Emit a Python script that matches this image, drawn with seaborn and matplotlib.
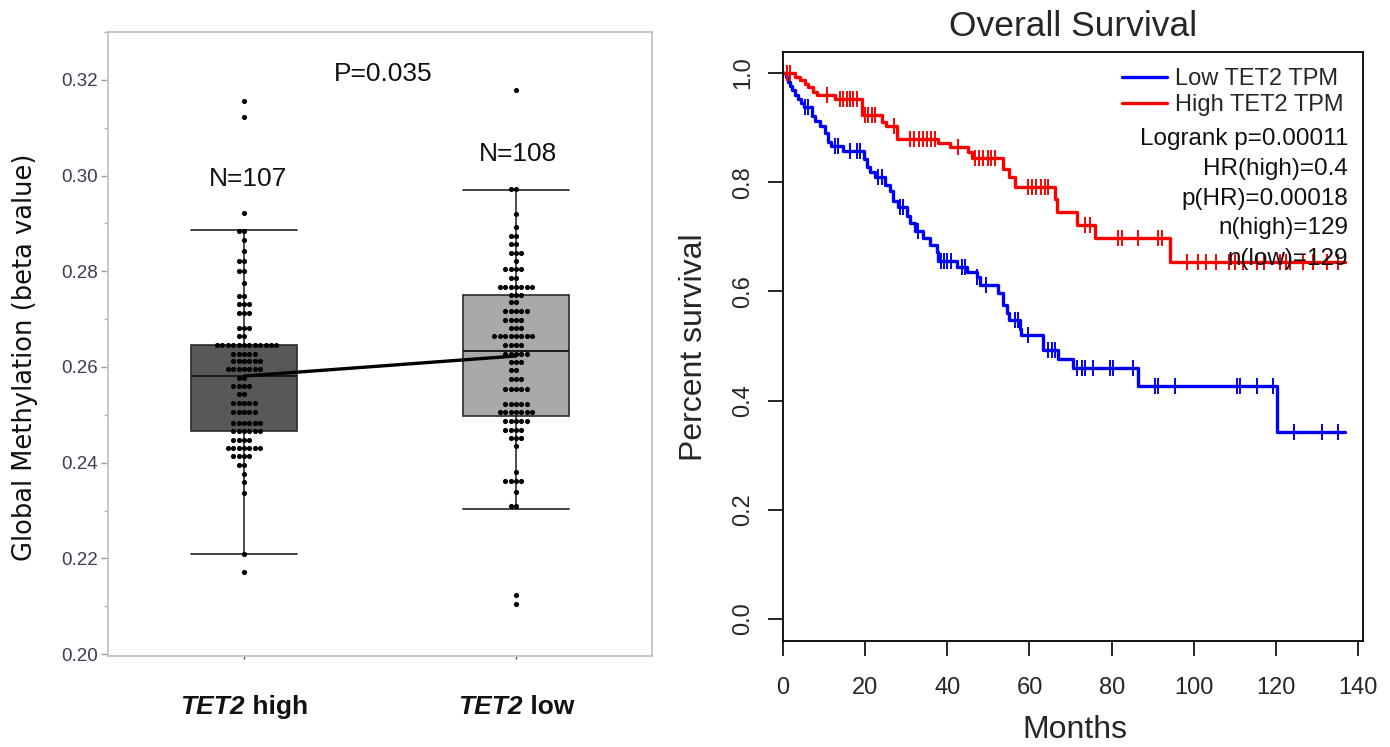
import numpy as np
import pandas as pd
import matplotlib
matplotlib.use("Agg")
import matplotlib.pyplot as plt
import seaborn as sns
from matplotlib.lines import Line2D
from matplotlib.offsetbox import TextArea, HPacker, AnnotationBbox

# ---------------- data ----------------
groups = ["TET2 high", "TET2 low"]
group_italic = ["TET2", "TET2"]
group_rest = [" high", " low"]

high_levels = [0.3156, 0.3123, 0.2921, 0.2885, 0.2866, 0.2842, 0.2821, 0.2801, 0.2776,
               0.2748, 0.2732, 0.2713, 0.2682, 0.2665, 0.2645, 0.2628, 0.2612, 0.2595,
               0.2578, 0.2560, 0.2543, 0.2524, 0.2506, 0.2484, 0.2467, 0.2448, 0.2430,
               0.2413, 0.2396, 0.2376, 0.2359, 0.2337, 0.2210, 0.2171]
high_counts = [1, 1, 1, 2, 1, 1, 2, 2, 1, 2, 3, 3, 3, 2, 12, 5, 6, 7, 2, 4, 2, 5, 5, 6, 6,
               4, 7, 4, 2, 1, 1, 1, 1, 1]

low_levels = [0.3179, 0.2971, 0.2920, 0.2892, 0.2874, 0.2858, 0.2839, 0.2822, 0.2804,
              0.2787, 0.2768, 0.2751, 0.2735, 0.2716, 0.2699, 0.2682, 0.2664, 0.2646,
              0.2628, 0.2611, 0.2593, 0.2574, 0.2555, 0.2522, 0.2505, 0.2487, 0.2468,
              0.2451, 0.2435, 0.2381, 0.2362, 0.2338, 0.2309, 0.2123, 0.2105]
low_counts = [1, 2, 1, 1, 2, 2, 3, 1, 4, 2, 7, 3, 2, 5, 4, 3, 8, 4, 5, 3, 2, 3, 5, 5, 7,
              5, 4, 3, 1, 1, 4, 1, 2, 1, 1]

box_q1 = [0.2467, 0.2497]
box_med = [0.2581, 0.2634]
box_q3 = [0.2646, 0.2751]
whisk_lo = [0.2209, 0.2303]
whisk_hi = [0.2886, 0.2970]
group_means = [0.2581, 0.2623]
n_labels = ["N=107", "N=108"]
p_label = "P=0.035"
left_yticks = [0.20, 0.22, 0.24, 0.26, 0.28, 0.30, 0.32]

# Kaplan-Meier (months, survival)
low_t = [0, 0.8, 1.3, 1.7, 2.1, 2.9, 3.7, 4.5, 5.0, 7.0, 7.8, 9.0, 10.2, 11.0, 11.6, 14.7,
         19.8, 20.4, 21.2, 22.4, 24.8, 26.1, 26.9, 28.1, 30.1, 30.9, 32.1, 34.2, 35.8, 37.4,
         37.8, 42.4, 44.7, 47.2, 48.0, 52.4, 53.6, 54.5, 54.9, 57.7, 57.9, 63.4, 67.0, 70.7,
         86.5, 120.2, 136.8]
low_s = [1.0, 0.992, 0.984, 0.976, 0.968, 0.960, 0.953, 0.945, 0.937, 0.922, 0.913, 0.903,
         0.891, 0.874, 0.866, 0.858, 0.842, 0.828, 0.819, 0.810, 0.795, 0.783, 0.766, 0.754,
         0.738, 0.725, 0.710, 0.698, 0.685, 0.673, 0.655, 0.645, 0.636, 0.627, 0.612, 0.597,
         0.575, 0.560, 0.548, 0.532, 0.520, 0.493, 0.477, 0.459, 0.427, 0.343, 0.343]
low_cens = [5.4, 6.2, 12.6, 13.4, 16.3, 17.9, 18.7, 23.2, 24.0, 28.4, 29.2, 32.9, 38.5, 39.2,
            40.0, 40.8, 43.6, 44.4, 47.3, 49.4, 56.5, 57.3, 59.6, 64.6, 65.5, 66.3, 71.5, 72.7,
            73.5, 75.5, 79.6, 80.4, 85.3, 90.6, 91.4, 95.4, 110.5, 111.3, 115.3, 119.4, 124.3,
            131.2, 135.2]

high_t = [0, 2.9, 4.1, 5.4, 6.2, 7.4, 8.2, 12.7, 19.2, 24.0, 25.0, 27.7, 37.8, 40.7, 45.1,
          45.9, 53.6, 54.9, 56.5, 66.2, 66.6, 71.5, 76.0, 94.2, 136.8]
high_s = [1.0, 0.993, 0.987, 0.980, 0.974, 0.966, 0.960, 0.952, 0.923, 0.911, 0.903, 0.880,
          0.871, 0.864, 0.856, 0.845, 0.825, 0.810, 0.792, 0.770, 0.746, 0.722, 0.697, 0.654,
          0.654]
high_cens = [1.0, 1.8, 10.6, 13.9, 14.7, 15.5, 16.3, 17.1, 18.0, 20.0, 20.8, 21.6, 22.5, 27.0,
             31.0, 32.0, 33.0, 34.0, 35.0, 36.0, 37.0, 42.5, 46.8, 47.8, 48.8, 49.8, 50.7, 51.6,
             59.7, 60.7, 61.7, 62.7, 63.7, 64.6, 73.5, 74.7, 81.6, 82.5, 86.5, 91.4, 92.2, 98.3,
             101.0, 103.0, 105.5, 108.5, 110.0, 112.0, 115.5, 117.0, 121.0, 122.5, 123.5, 126.5,
             129.0, 132.5, 135.0]

km_labels = ["Low TET2 TPM", "High TET2 TPM"]
km_stats = ["Logrank p=0.00011", "HR(high)=0.4", "p(HR)=0.00018", "n(high)=129", "n(low)=129"]
km_xticks = [0, 20, 40, 60, 80, 100, 120, 140]
km_yticks = [0.0, 0.2, 0.4, 0.6, 0.8, 1.0]

# ---------------- figure ----------------
sns.set_theme(style="white")
plt.rcParams["font.family"] = ["Liberation Sans", "DejaVu Sans"]

fig = plt.figure(figsize=(13.9, 7.47), dpi=100)
axL = fig.add_axes([0.0777, 0.1218, 0.3914, 0.8353])
axR = fig.add_axes([0.5633, 0.1419, 0.4173, 0.7885])

# ---- left panel: box + swarm ----
df = pd.DataFrame({
    "group": [groups[0]] * sum(high_counts) + [groups[1]] * sum(low_counts),
    "value": list(np.repeat(high_levels, high_counts)) + list(np.repeat(low_levels, low_counts)),
})

stats = [dict(q1=box_q1[i], med=box_med[i], q3=box_q3[i], whislo=whisk_lo[i],
              whishi=whisk_hi[i], fliers=[]) for i in range(2)]
bp = axL.bxp(stats, positions=[0, 1], widths=0.39, capwidths=0.39, patch_artist=True,
             showfliers=False, manage_ticks=False,
             boxprops=dict(linewidth=1.2, edgecolor="#2a2a2a"),
             medianprops=dict(color="#1a1a1a", linewidth=1.4),
             whiskerprops=dict(color="#1a1a1a", linewidth=1.1),
             capprops=dict(color="#333333", linewidth=1.3))
for patch, fc in zip(bp["boxes"], ["#585858", "#a9a9a9"]):
    patch.set_facecolor(fc)
    patch.set_zorder(1)

sns.swarmplot(data=df, x="group", y="value", order=groups, color="black", size=3.7,
              ax=axL, zorder=3, warn_thresh=1.0)
sns.lineplot(x=[0, 1], y=group_means, color="black", linewidth=2.4, ax=axL, zorder=4)

axL.set_xlim(-0.5, 1.5)
axL.set_ylim(0.1996, 0.3296)
axL.set_yticks(left_yticks)
axL.set_yticklabels([f"{v:.2f}" for v in left_yticks], fontsize=13.5, color="#3c3c4e")
axL.set_yticks(np.arange(0.21, 0.33, 0.02), minor=True)
axL.tick_params(axis="y", which="major", left=True, length=5, width=1.0, color="#9a9a9a", pad=2)
axL.tick_params(axis="y", which="minor", left=True, length=3, width=1.0, color="#b0b0b0")
axL.set_xticks([0, 1])
axL.set_xticklabels(["", ""])
axL.tick_params(axis="x", bottom=True, length=2, width=1.0, color="#555555")
axL.set_xlabel("")
axL.set_ylabel("")
for sp in axL.spines.values():
    sp.set_color("#c4c4c4")
    sp.set_linewidth(1.3)
    sp.set_visible(True)

axL.text(0.51, 0.3213, p_label, ha="center", va="center", fontsize=19, color="#111111")
axL.text(0.015, 0.2992, n_labels[0], ha="center", va="center", fontsize=19, color="#111111")
axL.text(1.007, 0.3046, n_labels[1], ha="center", va="center", fontsize=19, color="#111111")

for i in range(2):
    t1 = TextArea(group_italic[i], textprops=dict(fontweight="bold", fontstyle="italic",
                                                   fontsize=19, color="#111111"))
    t2 = TextArea(group_rest[i], textprops=dict(fontweight="bold", fontsize=19, color="#111111"))
    pack = HPacker(children=[t1, t2], align="baseline", pad=0, sep=0)
    ab = AnnotationBbox(pack, (i, 1 - 707 / 747), xycoords=("data", "figure fraction"),
                        box_alignment=(0.5, 0.5), frameon=False, pad=0, annotation_clip=False)
    axL.add_artist(ab)

fig.text(25 / 1390, 1 - 357 / 747, "Global Methylation (beta value)", rotation=90,
         ha="center", va="center", fontsize=18.5, family="DejaVu Sans", color="#111111")

# ---- right panel: Kaplan-Meier ----
def step_at(times, surv, pts):
    idx = np.searchsorted(np.asarray(times), np.asarray(pts), side="right") - 1
    return np.asarray(surv)[idx]

for t, s, c, col in [(low_t, low_s, low_cens, "#0000ff"), (high_t, high_s, high_cens, "#ff0000")]:
    sns.lineplot(x=t, y=s, drawstyle="steps-post", color=col, linewidth=2.4, ax=axR,
                 estimator=None, sort=False)
    axR.scatter(c, step_at(t, s, c), marker="|", s=135, linewidths=1.4, color=col, zorder=3)

axR.set_xlim(0, 141.2)
axR.set_ylim(-0.0403, 1.0385)
axR.set_xticks(km_xticks)
axR.set_xticklabels([str(v) for v in km_xticks], fontsize=17)
axR.set_yticks(km_yticks)
axR.set_yticklabels([f"{v:.1f}" for v in km_yticks], fontsize=17, rotation=90, va="center")
axR.tick_params(axis="x", bottom=True, direction="out", length=11, width=1.2, color="black", pad=15)
axR.tick_params(axis="y", left=True, direction="out", length=11, width=1.2, color="black", pad=10)
axR.set_xlabel("")
axR.set_ylabel("")
for sp in axR.spines.values():
    sp.set_color("black")
    sp.set_linewidth(1.3)
    sp.set_visible(True)

handles = [Line2D([], [], color="#0000ff", linewidth=2.4),
           Line2D([], [], color="#ff0000", linewidth=2.4)]
axR.legend(handles, km_labels, loc="upper left", bbox_to_anchor=(0.585, 0.972), frameon=False,
           fontsize=17, handlelength=1.9, handletextpad=0.35, labelspacing=0.14,
           borderpad=0, borderaxespad=0)
stat_y = [0.852, 0.801, 0.751, 0.702, 0.648]
for txt, yy in zip(km_stats, stat_y):
    axR.text(0.974, yy, txt, transform=axR.transAxes, ha="right", va="center", fontsize=17.5,
             color="#111111")

fig.text(1073 / 1390, 1 - 27 / 747, "Overall Survival", ha="center", va="center", fontsize=25.5)
fig.text(1075 / 1390, 1 - 730 / 747, "Months", ha="center", va="center", fontsize=23)
fig.text(694 / 1390, 1 - 347 / 747, "Percent survival", rotation=90, ha="center", va="center",
         fontsize=23)

fig.savefig("out.png", dpi=100)
